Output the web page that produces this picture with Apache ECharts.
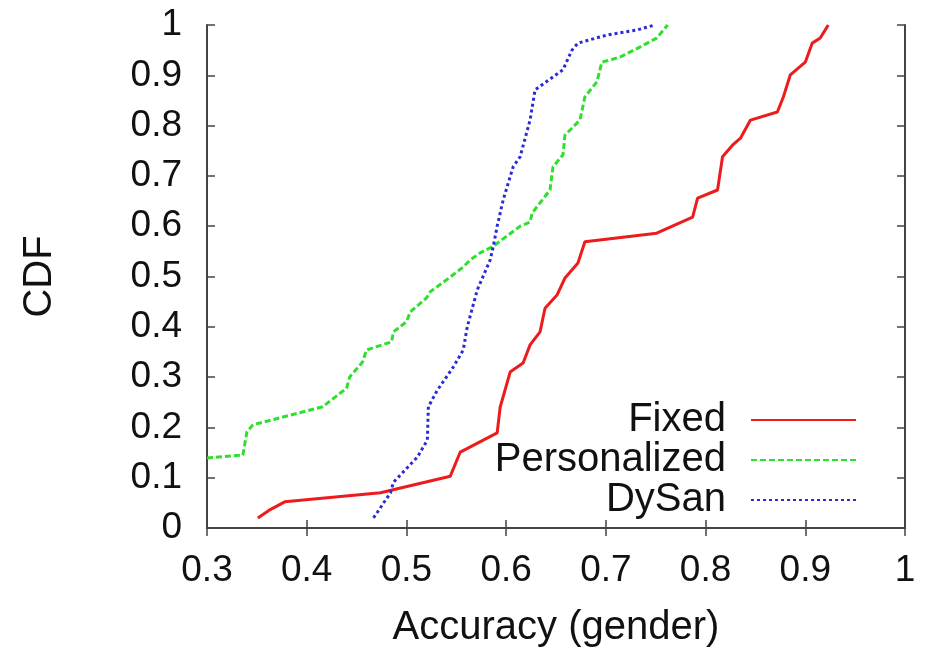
<!DOCTYPE html>
<html>
<head>
<meta charset="utf-8">
<script src="https://cdn.jsdelivr.net/npm/echarts@6/dist/echarts.min.js"></script>
<style>
  html, body { margin: 0; padding: 0; background: #fff; }
  #chart { width: 935px; height: 653px; }
</style>
</head>
<body>
<div id="chart"></div>
<script>
// accuracy (x) / CDF (y)
var fixedAcc = [0.351, 0.362, 0.378, 0.474, 0.544, 0.554, 0.591, 0.594, 0.604, 0.617, 0.624, 0.634, 0.639, 0.651, 0.659, 0.672, 0.679, 0.751, 0.787, 0.792, 0.812, 0.817, 0.827, 0.835, 0.845, 0.872, 0.878, 0.885, 0.900, 0.907, 0.915, 0.923];
var fixedCdf = [0.020, 0.035, 0.052, 0.070, 0.103, 0.151, 0.189, 0.240, 0.310, 0.328, 0.364, 0.390, 0.437, 0.463, 0.497, 0.527, 0.569, 0.586, 0.618, 0.656, 0.672, 0.738, 0.761, 0.775, 0.811, 0.827, 0.857, 0.901, 0.926, 0.964, 0.974, 1.000];

var persAcc = [0.300, 0.336, 0.340, 0.346, 0.416, 0.440, 0.443, 0.456, 0.460, 0.485, 0.487, 0.500, 0.504, 0.520, 0.524, 0.540, 0.557, 0.564, 0.574, 0.587, 0.614, 0.624, 0.626, 0.644, 0.647, 0.657, 0.659, 0.674, 0.679, 0.691, 0.696, 0.714, 0.734, 0.751, 0.762];
var persCdf = [0.139, 0.145, 0.191, 0.205, 0.241, 0.278, 0.300, 0.330, 0.354, 0.370, 0.390, 0.410, 0.430, 0.457, 0.470, 0.493, 0.519, 0.533, 0.547, 0.560, 0.600, 0.608, 0.626, 0.672, 0.718, 0.742, 0.781, 0.811, 0.857, 0.887, 0.926, 0.936, 0.956, 0.974, 1.000];

var dysanAcc = [0.467, 0.484, 0.487, 0.511, 0.521, 0.522, 0.531, 0.547, 0.557, 0.561, 0.571, 0.584, 0.587, 0.591, 0.597, 0.607, 0.614, 0.624, 0.629, 0.657, 0.666, 0.672, 0.701, 0.731, 0.749];
var dysanCdf = [0.020, 0.070, 0.091, 0.141, 0.175, 0.241, 0.274, 0.320, 0.354, 0.400, 0.473, 0.533, 0.559, 0.600, 0.652, 0.718, 0.738, 0.811, 0.871, 0.911, 0.950, 0.964, 0.980, 0.990, 1.000];

var seriesNames = ['Fixed', 'Personalized', 'DySan'];

var font = 'Liberation Sans, Arial, sans-serif';
var axisColor = '#444';

function pairs(xs, ys) {
    return xs.map(function (x, i) { return [x, ys[i]]; });
}

function legendFor(name, top) {
    return {
        data: [name],
        right: 78,
        top: top,
        padding: 0,
        align: 'right',
        itemWidth: 105,
        itemHeight: 12,
        itemGap: 25,
        selectedMode: false,
        itemStyle: { opacity: 0 },
        textStyle: { fontFamily: font, fontSize: 40, color: '#111', lineHeight: 40, padding: [0, 20, 0, 0] }
    };
}

var myChart = echarts.init(document.getElementById('chart'));
var option = {
    backgroundColor: '#fff',
    animation: false,
    grid: { left: 207, right: 30, top: 25, bottom: 125 },
    legend: [
        legendFor(seriesNames[0], 400),
        legendFor(seriesNames[1], 440),
        legendFor(seriesNames[2], 480)
    ],
    xAxis: [
        {
            type: 'value', min: 0.3, max: 1, interval: 0.1,
            name: 'Accuracy (gender)', nameLocation: 'middle', nameGap: 80,
            nameTextStyle: { fontFamily: font, fontSize: 40, color: '#111' },
            axisLine: { lineStyle: { color: axisColor, width: 2 } },
            axisTick: { inside: true, length: 8, lineStyle: { color: axisColor, width: 1.5 } },
            axisLabel: { fontFamily: font, fontSize: 37, color: '#111', margin: 24 },
            splitLine: { show: false }
        },
        {
            type: 'value', min: 0.3, max: 1, interval: 0.1, position: 'top',
            axisLine: { lineStyle: { color: axisColor, width: 2 } },
            axisTick: { inside: true, length: 8, lineStyle: { color: axisColor, width: 1.5 } },
            axisLabel: { show: false },
            splitLine: { show: false }
        }
    ],
    yAxis: [
        {
            type: 'value', min: 0, max: 1, interval: 0.1,
            name: 'CDF', nameLocation: 'middle', nameGap: 147,
            nameTextStyle: { fontFamily: font, fontSize: 40, color: '#111' },
            axisLine: { show: true, lineStyle: { color: axisColor, width: 2 } },
            axisTick: { show: true, inside: true, length: 8, lineStyle: { color: axisColor, width: 1.5 } },
            axisLabel: { fontFamily: font, fontSize: 37, color: '#111', margin: 25 },
            splitLine: { show: false }
        },
        {
            type: 'value', min: 0, max: 1, interval: 0.1, position: 'right',
            axisLine: { show: true, lineStyle: { color: axisColor, width: 2 } },
            axisTick: { show: true, inside: true, length: 8, lineStyle: { color: axisColor, width: 1.5 } },
            axisLabel: { show: false },
            splitLine: { show: false }
        }
    ],
    series: [
        {
            name: seriesNames[0], type: 'line', symbol: 'none',
            data: pairs(fixedAcc, fixedCdf),
            itemStyle: { color: '#ec1c1c' },
            lineStyle: { color: '#ec1c1c', width: 3 }
        },
        {
            name: seriesNames[1], type: 'line', symbol: 'none',
            data: pairs(persAcc, persCdf),
            itemStyle: { color: '#2ee02e' },
            lineStyle: { color: '#2ee02e', width: 3, type: [6, 3] }
        },
        {
            name: seriesNames[2], type: 'line', symbol: 'none',
            data: pairs(dysanAcc, dysanCdf),
            itemStyle: { color: '#2b2bd6' },
            lineStyle: { color: '#2b2bd6', width: 3, type: [3, 3] }
        }
    ]
};

myChart.setOption(option);
</script>
</body>
</html>
